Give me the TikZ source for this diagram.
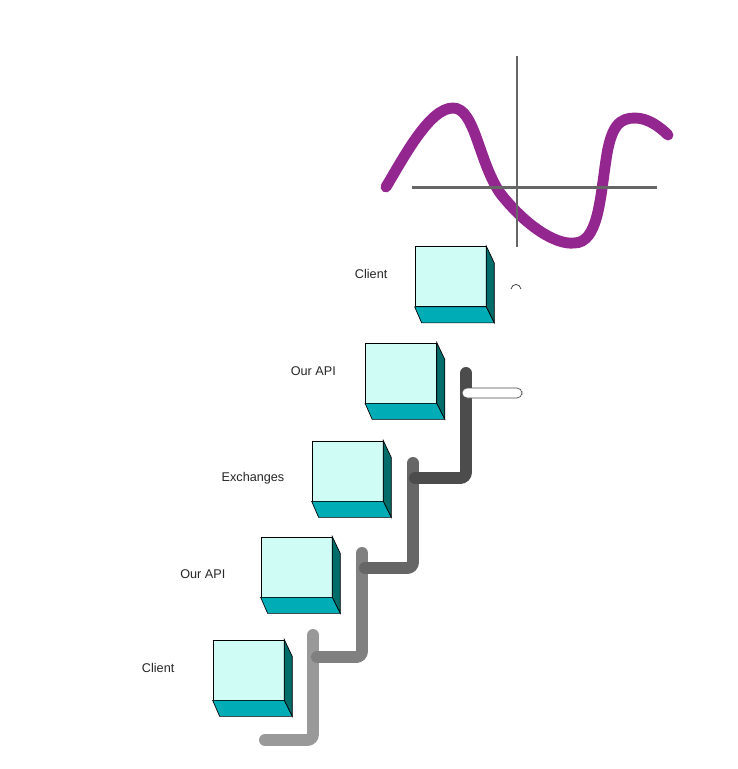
\documentclass[tikz,border=0pt]{standalone}
\usepackage{fontspec}
\newfontfamily\lblfont{Liberation Sans}
\usetikzlibrary{positioning,calc}
\definecolor{cubefront}{HTML}{CFFDF6}
\definecolor{cubebottom}{HTML}{00ACB6}
\definecolor{cubeside}{HTML}{006D6B}
\definecolor{wave}{HTML}{93278F}

\begin{document}
\begin{tikzpicture}[
    x=0.02cm, y=-0.02cm,
    cube/.style={rectangle, draw=black, fill=cubefront, minimum width=1.42cm, minimum height=1.2cm, inner sep=0pt, line width=0.4pt},
    lbl/.style={font=\lblfont\fontsize{7.2}{8}\selectfont, text=black!85, inner sep=0pt},
    pipe/.style={line width=6.8pt, line cap=round, rounded corners=0.12cm},
    axis/.style={draw=black!60, line width=1.7pt},
    bar/.style={rectangle, rounded corners=0.1cm, draw=black!70, fill=white, line width=0.4pt, minimum width=1.2cm, minimum height=0.2cm, inner sep=0pt}
]
\useasboundingbox (0,0) rectangle (738,769);

% Wave and axes
\draw[wave, line width=6.2pt, line cap=round] (386,187) .. controls (405,155) and (430,108) .. (453,108)
    .. controls (475,108) and (478,160) .. (500,193)
    .. controls (525,225) and (555,245) .. (574,243)
    .. controls (598,243) and (600,200) .. (606,160)
    .. controls (611,125) and (620,118) .. (635,118)
    .. controls (648,118) and (660,127) .. (668,135);
\draw[axis] (412,187) -- (657,187);
\draw[axis] (517,56) -- (517,247);

% Pipes
\draw[pipe, draw=black!40] (313,635) -- (313,740) -- (265,740);
\draw[pipe, draw=black!50] (362,553) -- (362,657) -- (317,657);
\draw[pipe, draw=black!60] (413,463) -- (413,568) -- (365,568);
\draw[pipe, draw=black!70] (466,373) -- (466,478) -- (415,478);
\node[bar] (handle) at (492,393) {};
\draw[black!80, line width=0.4pt] (511,289) .. controls (512,283) and (520,283) .. (521,289);

% Boxes
\node[cube] (client1) at (450.5,276.5) {};
\node[cube] (api1) at (401,373) {};
\node[cube] (exch) at (347.5,471) {};
\node[cube] (api2) at (296.5,567) {};
\node[cube] (client2) at (248.5,670) {};

\foreach \b in {client1,api1,exch,api2,client2}{
  \filldraw[fill=cubebottom, draw=black, line width=0.4pt] (\b.south west) -- (\b.south east) -- ++(8,16) -- ($(\b.south west)+(7,16)$) -- cycle;
  \filldraw[fill=cubeside, draw=black, line width=0.4pt] (\b.north east) -- ++(8,17) -- ($(\b.south east)+(8,16)$) -- (\b.south east) -- cycle;
}

% Labels
\node[lbl, left=0.54cm of client1, yshift=0.06cm] (lclient1) {Client};
\node[lbl, left=0.58cm of api1, yshift=0.04cm] (lapi1) {Our API};
\node[lbl, left=0.54cm of exch, yshift=-0.14cm] (lexch) {Exchanges};
\node[lbl, left=0.70cm of api2, yshift=-0.14cm] (lapi2) {Our API};
\node[lbl, left=0.76cm of client2, yshift=0.04cm] (lclient2) {Client};

\end{tikzpicture}
\end{document}
